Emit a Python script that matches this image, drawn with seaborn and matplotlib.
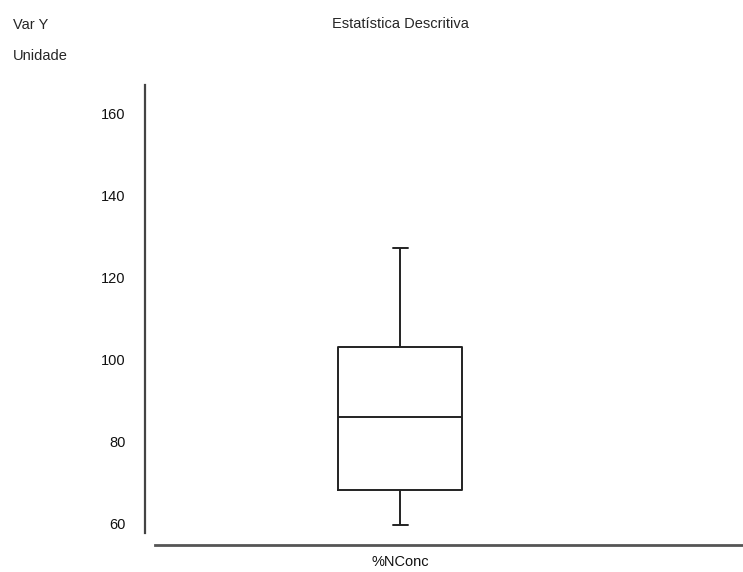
import numpy as np
import pandas as pd
import seaborn as sns

import matplotlib
matplotlib.use('Agg')

import matplotlib.pyplot as plt
import warnings
warnings.filterwarnings('ignore')

# Five-number summary
variable = ["%NConc"]
values = [59.5, 68.2, 85.8, 103.0, 127.2]
y_ticks = [60, 80, 100, 120, 140, 160]

df = pd.DataFrame({"var": variable * len(values), "valor": values})

sns.set_style("white")
plt.rcParams['font.family'] = ['Liberation Sans', 'DejaVu Sans']

fig = plt.figure(figsize=(7.43, 5.72), dpi=100)
ax = fig.add_axes([145 / 743, 39 / 572, 598 / 743, 448 / 572])

sns.boxplot(data=df, x="var", y="valor", ax=ax, width=0.8, fill=False,
            color="#222222", linewidth=1.4, whis=1.5, capwidths=0.1)

# Axis layout
ax.set_xlim(-1.651, 2.216)
ax.set_ylim(57.6, 166.9)
ax.set_yticks(y_ticks)
ax.set_xlabel("")
ax.set_ylabel("")
ax.tick_params(axis="both", length=0, labelsize=10.5, colors="#111111")
ax.tick_params(axis="y", pad=14)
ax.tick_params(axis="x", pad=7)

for side in ["top", "right"]:
    ax.spines[side].set_visible(False)
ax.spines["left"].set_color("#444444")
ax.spines["left"].set_linewidth(1.6)
ax.spines["bottom"].set_color("#555555")
ax.spines["bottom"].set_linewidth(2)
ax.spines["bottom"].set_position(("outward", 8.6))
ax.spines["bottom"].set_bounds(-1.586, 2.216)

# Header texts
fig.text(13 / 743, 1 - 25 / 572, "Var Y", ha="left", va="center", fontsize=10.5)
fig.text(13 / 743, 1 - 56 / 572, "Unidade", ha="left", va="center", fontsize=10.5)
fig.text(400 / 743, 1 - 24 / 572, "Estatística Descritiva", ha="center", va="center", fontsize=10.5)

plt.savefig("out.png", dpi=100)
plt.close()
